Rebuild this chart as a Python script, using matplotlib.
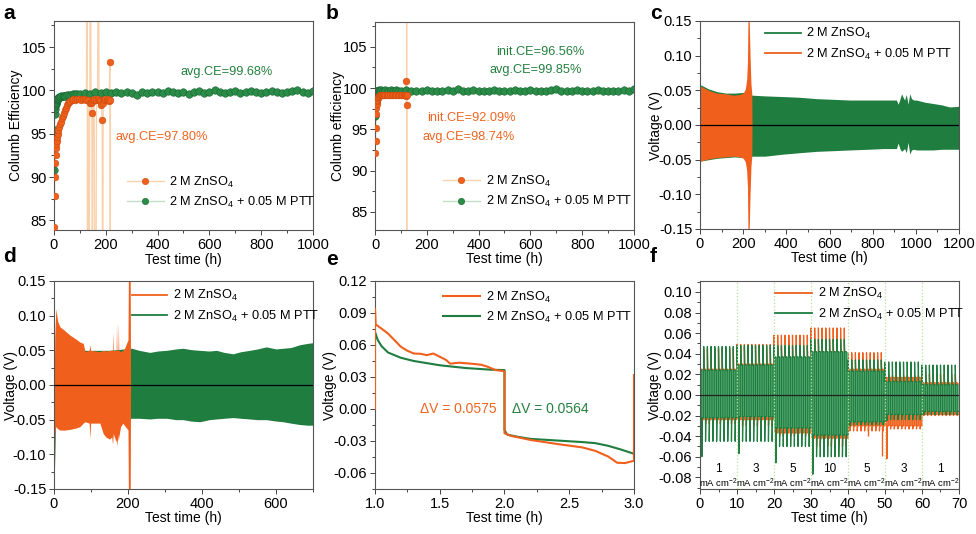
import matplotlib.pyplot as plt
from matplotlib.ticker import MultipleLocator
from matplotlib.lines import Line2D

plt.rcParams['font.family'] = ['Liberation Sans', 'DejaVu Sans']
plt.rcParams['mathtext.default'] = 'regular'
plt.rcParams['axes.unicode_minus'] = False

ORANGE = '#f0601c'
ORANGE_DARK = '#c94a0c'
ORANGE_LIGHT = '#f9d2ad'
GREEN = '#1e7d3f'
GREEN_DARK = '#166330'
GREEN_LIGHT = '#bfe0c6'
GREEN_FILL = '#6fbb86'
ORANGE_FILL = '#f3925a'
TXT_OR = '#ef6420'
TXT_GR = '#24803f'

L1 = '2 M ZnSO$_4$'
L2 = '2 M ZnSO$_4$ + 0.05 M PTT'

# ---------------- (a) Coulombic efficiency, 1 mA cm-2 ----------------
a_orange_t = [1, 2, 3, 4, 6, 7, 9, 10, 12, 14, 17, 20, 23, 26, 30, 34, 38, 42, 46, 50,
              54, 58, 62, 68, 74, 80, 88, 96, 104, 112, 120, 125, 128, 129, 132, 135, 138, 141, 143, 145,
              146, 148, 151, 155, 161, 164, 168, 172, 174, 178, 183, 186, 188, 190, 194, 198, 203, 208, 212, 216,
              217, 218]
a_orange_v = [84.2, 87.8, 90.0, 91.6, 92.5, 93.3, 93.8, 94.2, 94.6, 95.0, 95.4, 95.8, 96.1, 96.4, 96.8, 97.1, 97.4, 97.7, 98.0, 98.3,
              98.5, 98.7, 98.8, 98.9, 99.0, 98.9, 99.0, 99.0, 98.9, 99.0, 99.0, 98.9, 130, 60, 98.9, 60, 98.6, 130, 98.5, 97.4,
              98.7, 60, 98.9, 99.0, 60, 98.9, 99.0, 130, 98.9, 98.8, 98.3, 96.6, 60, 98.6, 98.9, 99.0, 98.9, 99.0, 98.8, 103.3,
              60, 98.9]
a_green_t = [1, 2, 3, 4, 5, 6, 7, 8, 10, 12, 14, 17, 20, 24, 28, 33, 38, 44, 50, 57,
             64, 72, 80, 90, 100, 120, 140, 160, 180, 200, 220, 240, 260, 280, 300, 320, 340, 360, 380, 400,
             420, 440, 460, 480, 500, 520, 540, 560, 580, 600, 620, 640, 660, 680, 700, 720, 740, 760, 780, 800,
             820, 840, 860, 880, 900, 920, 940, 960, 980, 1000]
a_green_v = [90.8, 95.4, 97.3, 97.9, 98.2, 98.4, 98.6, 98.7, 98.9, 99.0, 99.0, 99.1, 99.2, 99.25, 99.3, 99.35, 99.4, 99.4, 99.45, 99.5,
             99.5, 99.55, 99.6, 99.55, 99.6, 99.7, 99.6, 99.8, 99.7, 99.8, 99.7, 99.8, 99.7, 99.8, 99.7, 99.5, 99.8, 99.7, 99.8, 99.8,
             99.7, 99.9, 99.8, 99.7, 99.8, 99.6, 99.8, 99.9, 99.7, 99.8, 100.0, 99.8, 99.7, 99.8, 99.9, 99.7, 99.8, 99.9, 99.8, 99.7,
             99.8, 99.9, 99.8, 99.7, 99.8, 99.9, 100.0, 99.8, 99.7, 99.9]

# ---------------- (b) Coulombic efficiency, 2 mA cm-2 ----------------
b_orange_t = [1, 2, 3, 4, 5, 6, 7, 8, 10, 12, 15, 18, 22, 26, 30, 35, 40, 46, 52, 58,
              64, 70, 76, 82, 88, 94, 100, 106, 112, 117, 120, 121, 122, 122.3, 122.6, 123]
b_orange_v = [92.1, 93.6, 95.2, 96.8, 97.6, 98.1, 98.4, 98.6, 98.8, 98.9, 99.0, 99.1, 99.1, 99.2, 99.1, 99.2, 99.2, 99.2, 99.1, 99.2,
              99.2, 99.2, 99.1, 99.2, 99.2, 99.1, 99.2, 99.2, 99.1, 99.2, 100.9, 99.0, 97.9, 130, 60, 99.1]
b_green_t = [1, 2, 3, 4, 5, 6, 8, 10, 13, 16, 20, 25, 30, 40, 50, 60, 70, 80, 90, 100,
             120, 140, 160, 180, 200, 220, 240, 260, 280, 300, 320, 340, 360, 380, 400, 420, 440, 460, 480, 500,
             520, 540, 560, 580, 600, 620, 640, 660, 680, 700, 720, 740, 760, 780, 800, 820, 840, 860, 880, 900,
             920, 940, 960, 980, 1000]
b_green_v = [96.6, 98.3, 98.9, 99.3, 99.5, 99.6, 99.7, 99.6, 99.7, 99.8, 99.7, 99.8, 99.7, 99.8, 99.7, 99.8, 99.7, 99.8, 99.7, 99.6,
             99.8, 99.7, 99.6, 99.7, 99.8, 99.7, 99.6, 99.7, 99.8, 99.7, 99.9, 99.7, 99.6, 99.8, 99.7, 99.6, 99.7, 99.8, 99.7, 99.6,
             99.7, 99.8, 99.6, 99.7, 99.8, 99.7, 99.6, 99.7, 99.8, 99.9, 99.7, 99.6, 99.7, 99.8, 99.7, 99.6, 99.7, 99.8, 99.6, 99.7,
             99.6, 99.7, 99.8, 99.7, 99.9]

# ---------------- (c) voltage profile envelopes ----------------
c_green_t = [0, 3, 40, 80, 120, 160, 200, 240, 300, 386, 460, 540, 620, 694, 780, 849, 910, 918, 926, 934,
             941, 948, 956, 964, 972, 980, 990, 1003, 1040, 1080, 1120, 1157, 1200]
c_green_hi = [0.0, 0.058, 0.052, 0.048, 0.046, 0.046, 0.047, 0.043, 0.042, 0.041, 0.040, 0.038, 0.037, 0.036, 0.036, 0.036, 0.036, 0.030, 0.037, 0.045,
              0.040, 0.036, 0.044, 0.030, 0.045, 0.038, 0.036, 0.036, 0.033, 0.031, 0.029, 0.026, 0.027]
c_green_lo = [0.0, -0.052, -0.050, -0.048, -0.047, -0.046, -0.047, -0.045, -0.045, -0.042, -0.040, -0.038, -0.037, -0.036, -0.035, -0.034, -0.034, -0.026, -0.034, -0.038,
              -0.036, -0.034, -0.040, -0.025, -0.042, -0.036, -0.035, -0.036, -0.036, -0.036, -0.035, -0.035, -0.035]
c_orange_t = [0, 1, 3, 40, 77, 120, 154, 185, 200, 210, 216, 220, 222, 228, 232, 236, 240, 241]
c_orange_hi = [0.0, 0.02, 0.056, 0.050, 0.046, 0.045, 0.043, 0.044, 0.046, 0.052, 0.065, 0.09, 0.15, 0.15, 0.10, 0.06, 0.045, 0.0]
c_orange_lo = [-0.105, -0.06, -0.052, -0.049, -0.047, -0.046, -0.045, -0.046, -0.048, -0.053, -0.065, -0.09, -0.15, -0.15, -0.10, -0.06, -0.045, 0.0]

# ---------------- (d) voltage profile envelopes ----------------
d_orange_t = [0, 1, 2, 5, 10, 16, 30, 43, 60, 70, 79, 84, 95, 97, 99, 124, 133, 140, 150, 156,
              158, 159, 160, 168, 169, 170, 173, 174, 175, 180, 186, 190, 196, 200, 201, 206, 207]
d_orange_hi = [0.0, 0.02, 0.07, 0.110, 0.092, 0.084, 0.078, 0.072, 0.066, 0.062, 0.060, 0.048, 0.050, 0.058, 0.050, 0.048, 0.050, 0.049, 0.050, 0.050,
               0.050, 0.077, 0.050, 0.050, 0.087, 0.050, 0.050, 0.090, 0.050, 0.048, 0.050, 0.052, 0.060, 0.065, 0.15, 0.15, 0.0]
d_orange_lo = [-0.15, -0.15, -0.07, -0.060, -0.063, -0.065, -0.065, -0.064, -0.062, -0.060, -0.055, -0.053, -0.055, -0.077, -0.055, -0.055, -0.070, -0.075, -0.078, -0.075,
               -0.085, -0.080, -0.070, -0.082, -0.078, -0.088, -0.072, -0.080, -0.075, -0.060, -0.055, -0.058, -0.062, -0.065, -0.15, -0.15, 0.0]
d_green_t = [0, 2, 4, 6, 8, 150, 210, 230, 259, 280, 304, 330, 349, 370, 394, 420, 439, 460, 484, 505,
             529, 550, 574, 600, 619, 640, 664, 685, 700]
d_green_hi = [0.0, 0.02, 0.05, 0.05, 0.05, 0.05, 0.053, 0.050, 0.047, 0.049, 0.050, 0.052, 0.053, 0.051, 0.050, 0.049, 0.050, 0.047, 0.045, 0.048,
              0.050, 0.052, 0.055, 0.052, 0.053, 0.054, 0.058, 0.060, 0.061]
d_green_lo = [0.0, -0.119, -0.05, -0.05, -0.05, -0.05, -0.048, -0.048, -0.049, -0.048, -0.048, -0.050, -0.050, -0.052, -0.053, -0.050, -0.049, -0.048, -0.047, -0.048,
              -0.049, -0.050, -0.050, -0.052, -0.053, -0.055, -0.057, -0.058, -0.058]

# ---------------- (e) single cycle ----------------
e_orange_t = [1.0, 1.0, 1.005, 1.02, 1.05, 1.1, 1.15, 1.2, 1.25, 1.3, 1.35, 1.4, 1.45, 1.5, 1.55, 1.58, 1.65, 1.75, 1.82, 1.87,
              1.93, 1.99, 2.0, 2.0, 2.05, 2.2, 2.4, 2.6, 2.7, 2.8, 2.87, 2.93, 3.0, 3.0]
e_orange_v = [0.0, 0.094, 0.079, 0.078, 0.0754, 0.0708, 0.0646, 0.0583, 0.0546, 0.052, 0.0518, 0.0505, 0.052, 0.049, 0.0459, 0.0425, 0.0434, 0.0424, 0.0415, 0.0396,
              0.0365, 0.0356, 0.035, -0.0227, -0.0252, -0.029, -0.0327, -0.036, -0.0392, -0.0445, -0.0504, -0.0507, -0.0485, 0.0318]
e_green_t = [1.0, 1.0, 1.02, 1.05, 1.1, 1.2, 1.3, 1.5, 1.7, 1.9, 2.0, 2.0, 2.02, 2.1, 2.2, 2.4, 2.6, 2.7, 2.8, 2.9,
             3.0]
e_green_v = [0.03, 0.0723, 0.065, 0.059, 0.053, 0.048, 0.045, 0.041, 0.0384, 0.0368, 0.0365, -0.0196, -0.024, -0.026, -0.028, -0.0295, -0.031, -0.032, -0.0345, -0.038,
             -0.042]

# ---------------- (f) rate performance, one entry per current step ----------------
f_current = ['1', '3', '5', '10', '5', '3', '1']
f_orange_peak = [0.045, 0.049, 0.058, 0.065, 0.041, 0.019, 0.020]
f_orange_up = [0.025, 0.030, 0.036, 0.042, 0.025, 0.017, 0.012]
f_orange_dn = [-0.024, -0.024, -0.037, -0.042, -0.030, -0.030, -0.019]
f_orange_low = [-0.028, -0.030, -0.040, -0.050, -0.035, -0.033, -0.020]
f_orange_first = [-0.028, -0.030, -0.040, -0.050, -0.035, -0.062, -0.020]
f_green_peak = [0.047, 0.048, 0.048, 0.054, 0.034, 0.032, 0.029]
f_green_up = [0.024, 0.029, 0.037, 0.042, 0.023, 0.013, 0.010]
f_green_dn = [-0.022, -0.021, -0.032, -0.039, -0.026, -0.019, -0.016]
f_green_low = [-0.045, -0.045, -0.050, -0.060, -0.029, -0.024, -0.019]
f_green_first = [-0.060, -0.057, -0.066, -0.077, -0.030, -0.025, -0.019]
f_orange_spike_t = [45.3, 49.3]
f_orange_spike_v = [-0.040, -0.059]

W, H = 976, 534
fig = plt.figure(figsize=(W / 100, H / 100), dpi=100)

TICK_FS = 10.5
LABEL_FS = 10
LEG_FS = 9.2
ANN_FS = 9.2


def add_ax(l, t, r, b):
    return fig.add_axes([l / W, 1 - b / H, (r - l) / W, (b - t) / H])


def style(ax, xlim, xticks, xminor, xfmt, ylim, yticks, yminor, yfmt, ylabel, ylab_x):
    ax.set_xlim(xlim)
    ax.set_ylim(ylim)
    ax.set_xticks(xticks)
    ax.set_xticklabels([xfmt.format(v) for v in xticks])
    ax.set_yticks(yticks)
    ax.set_yticklabels([yfmt.format(v) for v in yticks])
    ax.xaxis.set_minor_locator(MultipleLocator(xminor))
    ax.yaxis.set_minor_locator(MultipleLocator(yminor))
    ax.tick_params(which='both', direction='out', top=False, right=False,
                   labelsize=TICK_FS, color='#444444', width=0.7, pad=2)
    ax.tick_params(which='major', length=3.5)
    ax.tick_params(which='minor', length=2)
    for s in ax.spines.values():
        s.set_color('#555555')
        s.set_linewidth(0.8)
    ax.set_xlabel('Test time (h)', fontsize=LABEL_FS)
    ax.set_ylabel(ylabel, fontsize=LABEL_FS)
    ax.xaxis.set_label_coords(0.5, -0.108)
    ax.yaxis.set_label_coords(ylab_x, 0.5)


def ce_panel(ax, ot, ov, gt, gv):
    ax.plot(ot, ov, '-', color=ORANGE_LIGHT, lw=0.9, zorder=1)
    ax.plot(gt, gv, '-', color=GREEN_LIGHT, lw=0.9, zorder=1.5)
    ax.plot(gt, gv, 'o', ms=5.4, mfc='#2b8c48', mec=GREEN_DARK, mew=0.4, zorder=2)
    ax.plot(ot, ov, 'o', ms=4.8, mfc=ORANGE, mec=ORANGE_DARK, mew=0.4, zorder=3)
    h1 = Line2D([], [], color=ORANGE_LIGHT, lw=1, marker='o', ms=4.6, mfc=ORANGE, mec=ORANGE_DARK, mew=0.4)
    h2 = Line2D([], [], color=GREEN_LIGHT, lw=1, marker='o', ms=4.6, mfc='#2b8c48', mec=GREEN_DARK, mew=0.4)
    return h1, h2


def line_legend(ax, handles, x, y, hl):
    ax.legend(handles, [L1, L2], loc='center left', bbox_to_anchor=(x, y), frameon=False, fontsize=LEG_FS,
              handlelength=hl, borderpad=0, borderaxespad=0, handletextpad=0.45, labelspacing=0.4)


# ---- a ----
ax = add_ax(54, 21, 313, 230)
h1, h2 = ce_panel(ax, a_orange_t, a_orange_v, a_green_t, a_green_v)
style(ax, (0, 1000), [0, 200, 400, 600, 800, 1000], 100, '{:d}',
      (83.9, 108), [85, 90, 95, 100, 105], 2.5, '{:d}', 'Columb Efficiency', -0.118)
line_legend(ax, [h1, h2], 0.28, 0.18, 2.9)
ax.text(668, 102.1, 'avg.CE=99.68%', color=TXT_GR, fontsize=ANN_FS, ha='center', va='center')
ax.text(416, 94.6, 'avg.CE=97.80%', color=TXT_OR, fontsize=ANN_FS, ha='center', va='center')

# ---- b ----
ax = add_ax(375, 22, 634, 230)
h1, h2 = ce_panel(ax, b_orange_t, b_orange_v, b_green_t, b_green_v)
style(ax, (0, 1000), [0, 200, 400, 600, 800, 1000], 100, '{:d}',
      (82.8, 108), [85, 90, 95, 100, 105], 2.5, '{:d}', 'Columb efficiency', -0.116)
line_legend(ax, [h1, h2], 0.262, 0.185, 2.9)
ax.text(637, 104.4, 'init.CE=96.56%', color=TXT_GR, fontsize=ANN_FS, ha='center', va='center')
ax.text(621, 102.2, 'avg.CE=99.85%', color=TXT_GR, fontsize=ANN_FS, ha='center', va='center')
ax.text(373, 96.4, 'init.CE=92.09%', color=TXT_OR, fontsize=ANN_FS, ha='center', va='center')
ax.text(362, 94.1, 'avg.CE=98.74%', color=TXT_OR, fontsize=ANN_FS, ha='center', va='center')

v_ticks = [-0.15, -0.10, -0.05, 0.0, 0.05, 0.10, 0.15]

# ---- c ----
ax = add_ax(700, 21, 959, 229)
ax.fill_between(c_green_t, c_green_lo, c_green_hi, color=GREEN, lw=0, zorder=1)
ax.fill_between(c_orange_t, c_orange_lo, c_orange_hi, color=ORANGE, lw=0, zorder=2)
ax.axhline(0, color='black', lw=0.9, zorder=4)
style(ax, (0, 1200), [0, 200, 400, 600, 800, 1000, 1200], 100, '{:d}',
      (-0.15, 0.15), v_ticks, 0.025, '{:.2f}', 'Voltage (V)', -0.143)
line_legend(ax, [Line2D([], [], color=GREEN, lw=1.3), Line2D([], [], color=ORANGE, lw=1.3)], 0.25, 0.89, 2.8)

# ---- d ----
ax = add_ax(54, 281, 313, 489)
ax.fill_between(d_green_t, d_green_lo, d_green_hi, color=GREEN, lw=0, zorder=1)
ax.fill_between(d_orange_t, d_orange_lo, d_orange_hi, color=ORANGE, lw=0, zorder=2)
ax.axhline(0, color='black', lw=0.9, zorder=4)
style(ax, (0, 700), [0, 200, 400, 600], 100, '{:d}',
      (-0.15, 0.15), v_ticks, 0.025, '{:.2f}', 'Voltage (V)', -0.139)
line_legend(ax, [Line2D([], [], color=ORANGE, lw=1.3), Line2D([], [], color=GREEN, lw=1.3)], 0.30, 0.88, 2.8)

# ---- e ----
ax = add_ax(375, 281, 634, 489)
ax.plot(e_green_t, e_green_v, color=GREEN, lw=1.5, zorder=2)
ax.plot(e_orange_t, e_orange_v, color=ORANGE, lw=1.5, zorder=3)
style(ax, (1.0, 3.0), [1.0, 1.5, 2.0, 2.5, 3.0], 0.25, '{:.1f}',
      (-0.075, 0.12), [-0.06, -0.03, 0.0, 0.03, 0.06, 0.09, 0.12], 0.015, '{:.2f}', 'Voltage (V)', -0.147)
line_legend(ax, [Line2D([], [], color=ORANGE, lw=1.5), Line2D([], [], color=GREEN, lw=1.5)], 0.263, 0.873, 2.9)
ax.text(1.645, 0.0, '\u0394V = 0.0575', color=TXT_OR, fontsize=10, ha='center', va='center')
ax.text(2.355, 0.0, '\u0394V = 0.0564', color=TXT_GR, fontsize=10, ha='center', va='center')


# ---- f ----
def wave(peak, up, dn, first, low):
    ts, vs = [], []
    for s in range(len(f_current)):
        for k in range(10):
            t0 = 10 * s + k
            neg = first[s] if k == 0 else low[s]
            ts += [t0, t0 + 0.08, t0 + 0.5, t0 + 0.5, t0 + 0.58, t0 + 1.0]
            vs += [peak[s], up[s], up[s], neg, dn[s], dn[s]]
    return ts, vs


ax = add_ax(700, 281, 959, 489)
for s in range(len(f_current)):
    ax.fill_between([10 * s, 10 * s + 10], f_orange_dn[s], f_orange_up[s], color=ORANGE_FILL, lw=0, zorder=1)
ot, ov = wave(f_orange_peak, f_orange_up, f_orange_dn, f_orange_first, f_orange_low)
ax.plot(ot, ov, color=ORANGE, lw=0.9, zorder=1.5)
ax.vlines(f_orange_spike_t, -0.03, f_orange_spike_v, color=ORANGE, lw=1.0, zorder=1.5)
for s in range(len(f_current)):
    ax.fill_between([10 * s, 10 * s + 10], f_green_dn[s], f_green_up[s], color=GREEN_FILL, lw=0, zorder=2)
gt, gv = wave(f_green_peak, f_green_up, f_green_dn, f_green_first, f_green_low)
ax.plot(gt, gv, color=GREEN, lw=0.9, zorder=2.5)
for s in range(1, len(f_current)):
    ax.axvline(10 * s, color='#b5e69a', lw=0.9, ls=':', zorder=3)
ax.axhline(0, color='#222222', lw=0.9, zorder=4)
for s, lab in enumerate(f_current):
    ax.text(10 * s + 5, -0.0715, lab, fontsize=8.5, ha='center', va='center')
    ax.text(10 * s + 5, -0.0855, 'mA cm$^{-2}$', fontsize=6.8, ha='center', va='center')
style(ax, (0, 70), [0, 10, 20, 30, 40, 50, 60, 70], 5, '{:d}',
      (-0.0913, 0.1106), [-0.08, -0.06, -0.04, -0.02, 0.0, 0.02, 0.04, 0.06, 0.08, 0.10], 0.01, '{:.2f}',
      'Voltage (V)', -0.147)
line_legend(ax, [Line2D([], [], color=ORANGE, lw=1.3), Line2D([], [], color=GREEN, lw=1.3)], 0.29, 0.89, 2.9)

# panel letters
for lab, x, y in [('a', 3, 4), ('b', 326, 4), ('c', 650, 4), ('d', 3, 247), ('e', 326, 250), ('f', 650, 247)]:
    fig.text(x / W, 1 - y / H, lab, fontsize=15, fontweight='bold', va='top', ha='left')

fig.savefig('out.png', dpi=100)
